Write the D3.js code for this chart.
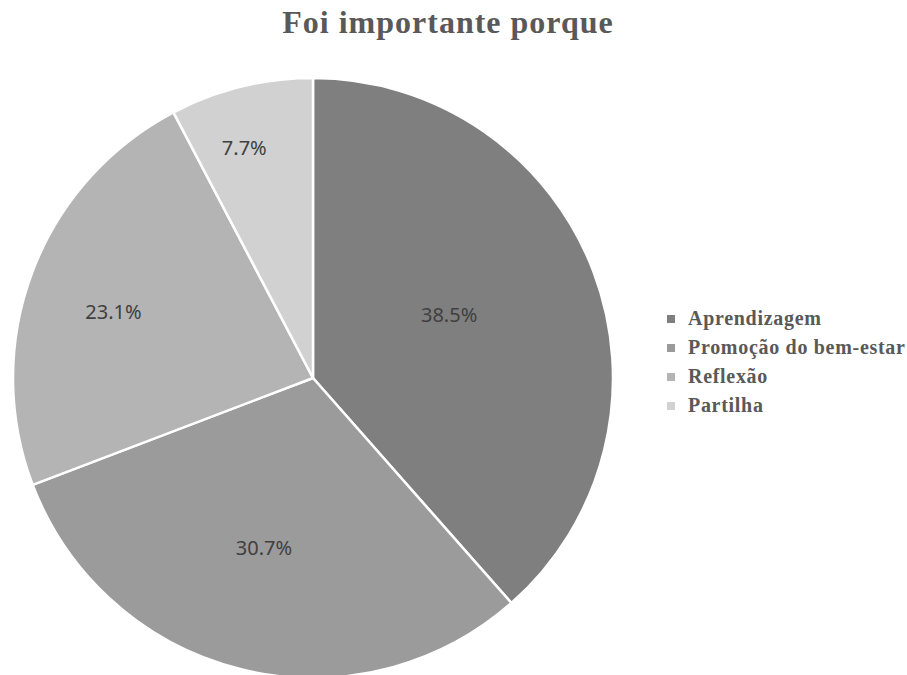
<!DOCTYPE html>
<html>
<head>
<meta charset="utf-8">
<script src="https://cdn.jsdelivr.net/npm/d3@7"></script>
<style>
  html, body { margin: 0; padding: 0; background: #fff; }
</style>
</head>
<body>
<div id="viz"></div>
<script>
const categories = ['Aprendizagem', 'Promoção do bem-estar', 'Reflexão', 'Partilha'];
const values = [38.5, 30.7, 23.1, 7.7];
const labels = ['38.5%', '30.7%', '23.1%', '7.7%'];

const colours = ['#7f7f7f', '#9b9b9b', '#b4b4b4', '#d1d1d1'];
// Excel's "best fit" labels: where in each slice (angle share, radius share)
const labelAngle = [0.47, 0.52, 0.47, 0.40];
const labelRadius = [0.50, 0.59, 0.70, 0.80];

const width = 907;
const height = 675;
const cx = 313;
const cy = 378;
const radius = 300;

const svg = d3.select('#viz')
  .append('svg')
  .attr('width', width)
  .attr('height', height);

svg.append('text')
  .attr('x', 448)
  .attr('y', 33)
  .attr('text-anchor', 'middle')
  .style('font-family', '"Liberation Serif", serif')
  .style('font-weight', 'bold')
  .style('font-size', '32px')
  .style('letter-spacing', '1px')
  .style('fill', '#595959')
  .text('Foi importante porque');

const dataset = categories.map((c, i) => ({ category: c, value: values[i], label: labels[i], index: i }));

const pie = d3.pie()
  .value(d => d.value)
  .sort(null);

const arc = d3.arc()
  .innerRadius(0)
  .outerRadius(radius);

const g = svg.append('g')
  .attr('transform', `translate(${cx}, ${cy})`);

const slices = g.selectAll('g.slice')
  .data(pie(dataset))
  .enter()
  .append('g')
  .attr('class', 'slice');

slices.append('path')
  .attr('d', arc)
  .attr('fill', d => colours[d.index])
  .attr('stroke', '#fff')
  .attr('stroke-width', 2.5)
  .attr('stroke-linejoin', 'round');

slices.append('text')
  .attr('transform', (d) => {
    const r = radius * labelRadius[d.index];
    const a = d.startAngle + (d.endAngle - d.startAngle) * labelAngle[d.index];
    return `translate(${r * Math.sin(a)}, ${-r * Math.cos(a)})`;
  })
  .attr('text-anchor', 'middle')
  .attr('dy', '0.35em')
  .style('font-family', '"Noto Sans", sans-serif')
  .style('font-size', '20px')
  .style('fill', '#404040')
  .text(d => d.data.label);

const legend = svg.append('g')
  .attr('transform', 'translate(667, 319)');

const rows = legend.selectAll('g')
  .data(dataset)
  .enter()
  .append('g')
  .attr('transform', d => `translate(0, ${d.index * 29})`);

rows.append('rect')
  .attr('x', 0)
  .attr('y', -4)
  .attr('width', 8)
  .attr('height', 8)
  .attr('fill', d => colours[d.index]);

rows.append('text')
  .attr('x', 21)
  .attr('y', 6)
  .style('font-family', '"Liberation Serif", serif')
  .style('font-weight', 'bold')
  .style('font-size', '20px')
  .style('letter-spacing', '0.7px')
  .style('fill', '#595959')
  .text(d => d.category);
</script>
</body>
</html>
